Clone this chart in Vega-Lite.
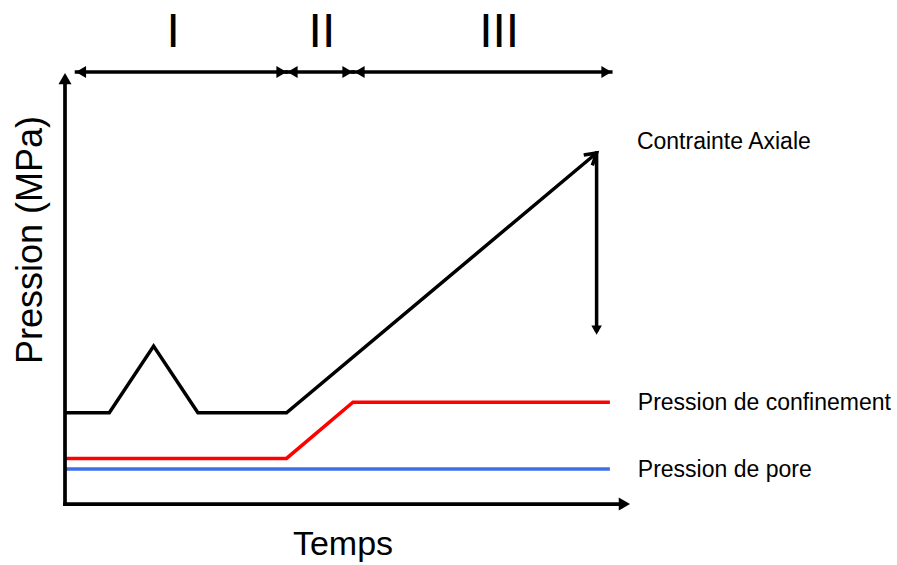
{
  "$schema": "https://vega.github.io/schema/vega-lite/v6.json",
  "width": 897,
  "height": 565,
  "autosize": {"type": "none"},
  "padding": 0,
  "background": "white",
  "config": {"view": {"stroke": null}, "font": "Liberation Sans"},
  "datasets": {
    "curves": [
      {"series": "Contrainte Axiale", "t": 0, "p": 26},
      {"series": "Contrainte Axiale", "t": 10, "p": 26},
      {"series": "Contrainte Axiale", "t": 20, "p": 45},
      {"series": "Contrainte Axiale", "t": 30, "p": 26},
      {"series": "Contrainte Axiale", "t": 50, "p": 26},
      {"series": "Contrainte Axiale", "t": 120, "p": 100},
      {"series": "Pression de confinement", "t": 0, "p": 13},
      {"series": "Pression de confinement", "t": 50, "p": 13},
      {"series": "Pression de confinement", "t": 65, "p": 29},
      {"series": "Pression de confinement", "t": 123, "p": 29},
      {"series": "Pression de pore", "t": 0, "p": 10},
      {"series": "Pression de pore", "t": 123, "p": 10}
    ],
    "rules": [
      {"kind": "axis", "t": 0, "p": 0, "t2": 0, "p2": 121.2},
      {"kind": "axis", "t": 0, "p": 0, "t2": 126.27, "p2": 0},
      {"kind": "phase", "t": 2.6, "p": 123.07, "t2": 50, "p2": 123.07},
      {"kind": "phase", "t": 50, "p": 123.07, "t2": 65, "p2": 123.07},
      {"kind": "phase", "t": 65, "p": 123.07, "t2": 123.2, "p2": 123.07},
      {"kind": "drop", "t": 120, "p": 100, "t2": 120, "p2": 49.6}
    ],
    "heads": [
      {"kind": "axis", "dir": "up", "t": 0, "p": 121.2},
      {"kind": "axis", "dir": "right", "t": 126.27, "p": 0},
      {"kind": "phase", "dir": "left", "t": 3.6, "p": 123.07},
      {"kind": "phase", "dir": "right", "t": 48.87, "p": 123.07},
      {"kind": "phase", "dir": "left", "t": 51.35, "p": 123.07},
      {"kind": "phase", "dir": "right", "t": 63.77, "p": 123.07},
      {"kind": "phase", "dir": "left", "t": 66.48, "p": 123.07},
      {"kind": "phase", "dir": "right", "t": 122.23, "p": 123.07},
      {"kind": "drop", "dir": "down", "t": 120, "p": 49.56}
    ],
    "tips": [
      {"t": 120, "p": 100}
    ],
    "labels": [
      {"role": "phase", "text": "I", "t": 24.4, "p": 134.2},
      {"role": "phase", "text": "II", "t": 58, "p": 134.2},
      {"role": "phase", "text": "III", "t": 98, "p": 134.2},
      {"role": "series", "text": "Contrainte Axiale", "t": 129.1, "p": 103.1},
      {"role": "series", "text": "Pression de confinement", "t": 129.3, "p": 28.8},
      {"role": "series", "text": "Pression de pore", "t": 129.3, "p": 9.7},
      {"role": "xtitle", "text": "Temps", "t": 62.75, "p": -11.65},
      {"role": "ytitle", "text": "Pression (MPa)", "t": -7.67, "p": 75.2}
    ]
  },
  "encoding": {
    "x": {"field": "t", "type": "quantitative", "scale": {"domain": [-14.673, 187.81], "nice": false, "zero": false}, "axis": null},
    "y": {"field": "p", "type": "quantitative", "scale": {"domain": [-17.35, 143.58], "nice": false, "zero": false}, "axis": null}
  },
  "layer": [
    {
      "data": {"name": "curves"},
      "mark": {"type": "line", "strokeWidth": 3.5, "strokeJoin": "miter"},
      "encoding": {
        "color": {"field": "series", "type": "nominal", "legend": null,
          "scale": {"domain": ["Contrainte Axiale", "Pression de confinement", "Pression de pore"], "range": ["#000000", "#ff0000", "#3f6fe8"]}},
        "strokeWidth": {"field": "series", "type": "nominal", "legend": null,
          "scale": {"domain": ["Contrainte Axiale", "Pression de confinement", "Pression de pore"], "range": [4, 3.5, 3]}}
      }
    },
    {
      "data": {"name": "rules"},
      "mark": {"type": "rule", "color": "black", "strokeCap": "square"},
      "encoding": {
        "x2": {"field": "t2"},
        "y2": {"field": "p2"},
        "strokeWidth": {"field": "kind", "type": "nominal", "legend": null,
          "scale": {"domain": ["axis", "phase", "drop"], "range": [5.5, 3, 3.5]}}
      }
    },
    {
      "data": {"name": "heads"},
      "mark": {"type": "point", "filled": true, "color": "black", "opacity": 1, "strokeWidth": 0},
      "encoding": {
        "shape": {"field": "dir", "type": "nominal", "legend": null,
          "scale": {"domain": ["up", "right", "left", "down"], "range": ["triangle-up", "triangle-right", "triangle-left", "triangle-down"]}},
        "size": {"field": "kind", "type": "nominal", "legend": null,
          "scale": {"domain": ["axis", "phase", "drop"], "range": [170, 110, 130]}}
      }
    },
    {
      "data": {"name": "tips"},
      "mark": {"type": "point", "shape": "M-1,-0.6L0,0L-1,0.6", "filled": false, "stroke": "black", "strokeWidth": 3.5, "opacity": 1, "size": 500, "angle": 320, "strokeJoin": "miter"}
    },
    {
      "data": {"name": "labels"},
      "transform": [{"filter": "datum.role === 'phase'"}],
      "mark": {"type": "text", "fontSize": 48, "align": "center", "baseline": "middle", "color": "black"},
      "encoding": {"text": {"field": "text"}}
    },
    {
      "data": {"name": "labels"},
      "transform": [{"filter": "datum.role === 'series'"}],
      "mark": {"type": "text", "fontSize": 23, "align": "left", "baseline": "middle", "color": "black"},
      "encoding": {"text": {"field": "text"}}
    },
    {
      "data": {"name": "labels"},
      "transform": [{"filter": "datum.role === 'xtitle'"}],
      "mark": {"type": "text", "fontSize": 34, "align": "center", "baseline": "middle", "color": "black"},
      "encoding": {"text": {"field": "text"}}
    },
    {
      "data": {"name": "labels"},
      "transform": [{"filter": "datum.role === 'ytitle'"}],
      "mark": {"type": "text", "fontSize": 36, "align": "center", "baseline": "middle", "angle": 270, "color": "black"},
      "encoding": {"text": {"field": "text"}}
    }
  ]
}
